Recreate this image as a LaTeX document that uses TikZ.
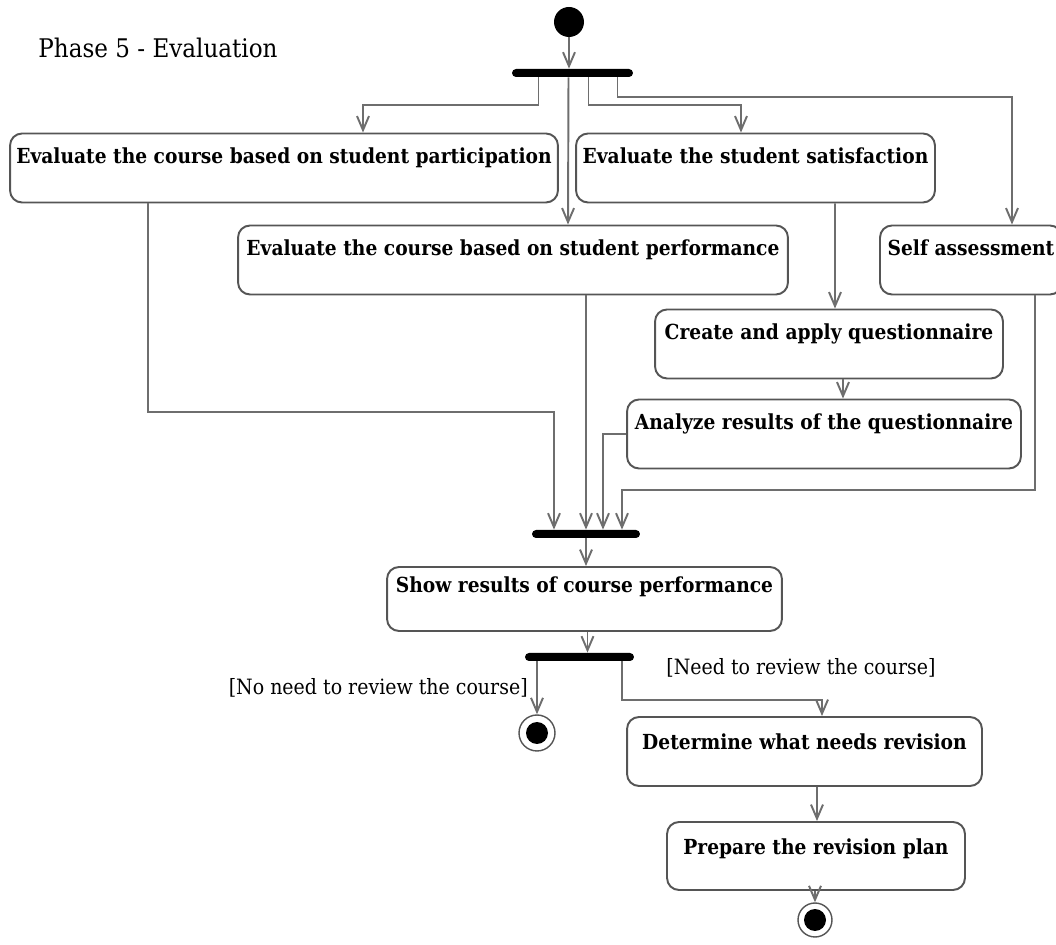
\documentclass[tikz,border=0pt]{standalone}
\usepackage{fontspec}
\setmainfont{DejaVu Serif}[FakeStretch=0.9]
\usetikzlibrary{arrows.meta, positioning, calc}
\definecolor{uLine}{HTML}{6E6E6E}
\definecolor{uBorder}{HTML}{555555}

\tikzset{
  action/.style={draw=uBorder, line width=1.1pt, rounded corners=0.24cm, inner xsep=0pt, inner ysep=0pt,
    text height=0.6cm, text depth=0.78cm, font=\fontsize{11.8}{14}\selectfont\bfseries},
  flow/.style={-{Straight Barb[length=0.28cm, width=0.24cm]}, uLine, line width=1.1pt},
  bar/.style={fill=black, rounded corners=0.08cm, minimum height=0.16cm, inner sep=0pt},
  initial/.style={circle, fill=black, minimum size=0.6cm, inner sep=0pt},
  final/.style={circle, draw=uBorder, line width=0.8pt, minimum size=0.72cm, inner sep=0pt,
    path picture={\fill[black] (path picture bounding box.center) circle (0.22cm);}},
  guard/.style={inner sep=0pt, font=\fontsize{12}{14}\selectfont},
  phasetitle/.style={inner sep=0pt, font=\fontsize{14.6}{17}\selectfont}
}

\begin{document}
\begin{tikzpicture}[x=0.02cm, y=-0.02cm]
    \useasboundingbox (0,0) rectangle (1056,945);
    \node[phasetitle, anchor=west] (phase) at (38,48) {Phase 5 - Evaluation};

    % start and first fork
    \node[initial] (start) at (569,22) {};
    \node[bar, minimum width=2.42cm] (fork1) at (572.5,73) {};

    % evaluation activities
    \node[action, minimum width=10.96cm] (partic) at (284,168) {Evaluate the course based on student participation};
    \node[action, minimum width=7.18cm] (satisf) at (755.5,168) {Evaluate the student satisfaction};
    \node[action, minimum width=11cm] (perform) at (513,260) {Evaluate the course based on student performance};
    \node[action, minimum width=3.64cm] (selfass) at (971,260) {Self assessment};
    \node[action, minimum width=6.96cm] (quest) at (829,344) {Create and apply questionnaire};
    \node[action, minimum width=7.88cm] (analyze) at (824,434) {Analyze results of the questionnaire};

    % join and results
    \node[bar, minimum width=2.16cm] (join) at (586,534) {};
    \node[action, minimum width=7.9cm, text height=0.52cm, text depth=0.76cm] (show) at (584.5,599) {Show results of course performance};
    \node[bar, minimum width=2.18cm] (decide) at (579.5,657) {};

    % revision branch
    \node[final] (end1) at (537,733) {};
    \node[action, minimum width=7.1cm, text height=0.66cm, text depth=0.72cm] (determine) at (804.5,751.5) {Determine what needs revision};
    \node[action, minimum width=5.96cm, text height=0.66cm, text depth=0.7cm] (prepare) at (816,856) {Prepare the revision plan};
    \node[final, minimum size=0.68cm] (end2) at (815,920) {};

    \node[guard, anchor=east] (noreview) at (528,688) {[No need to review the course]};
    \node[guard] (review) at (801,668) {[Need to review the course]};

    % connectors
    \draw[flow] (start) -- (start |- fork1.north);
    \draw[flow] ($(fork1.south)+(-34,0)$) -- ++(0,28) -| ($(partic.north)+(79,0)$);
    \draw[flow] ($(fork1.south)+(-4,0)$) -- ($(perform.north)+(55,0)$);
    \draw[flow] ($(fork1.south)+(16,0)$) -- ++(0,28) -| ($(satisf.north)+(-14.5,0)$);
    \draw[flow] ($(fork1.south)+(45,0)$) -- ++(0,20) -| ($(selfass.north)+(41,0)$);

    \draw[flow] ($(satisf.south)+(79.5,0)$) -- ($(quest.north)+(6,0)$);
    \draw[flow] ($(quest.south)+(14,0)$) -- ($(analyze.north)+(19,0)$);

    \draw[flow] ($(partic.south)+(-136,0)$) -- ++(0,209) -| ($(join.north)+(-32,0)$);
    \draw[flow] ($(perform.south)+(73,0)$) -- (join.north);
    \draw[flow] (analyze.west) -- ++(-24,0) -| ($(join.north)+(17,0)$);
    \draw[flow] ($(selfass.south)+(64,0)$) -- ++(0,195) -| ($(join.north)+(36,0)$);

    \draw[flow] (join.south) -- (join.south |- show.north);
    \draw[flow] ($(show.south)+(3,0)$) -- ($(decide.north)+(8,0)$);
    \draw[flow] ($(decide.south)+(-42.5,0)$) -- (end1.north);
    \draw[flow] ($(decide.south)+(42.5,0)$) -- ++(0,39) -| ($(determine.north)+(17.5,0)$);
    \draw[flow] ($(determine.south)+(12.5,0)$) -- ($(prepare.north)+(1,0)$);
    \draw[flow] (prepare.south -| end2) -- (end2.north);
\end{tikzpicture}
\end{document}
